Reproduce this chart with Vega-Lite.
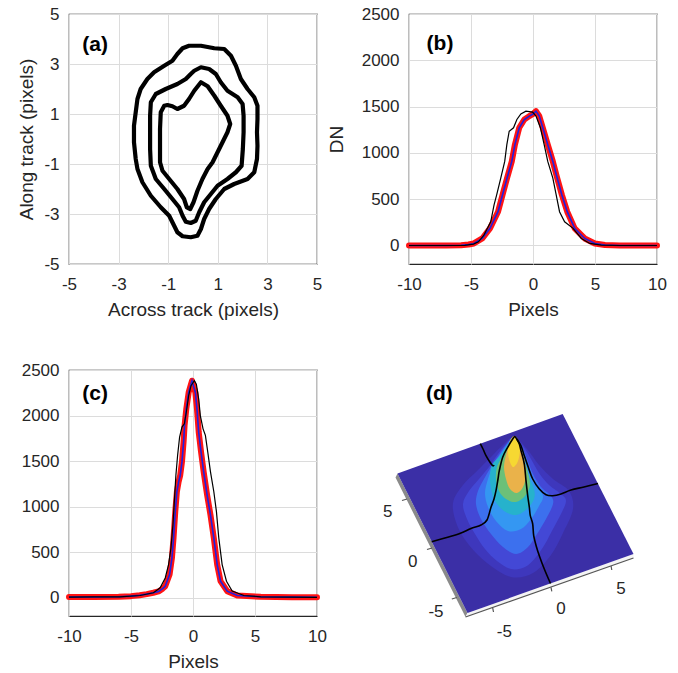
{
"$schema":"https://vega.github.io/schema/vega-lite/v6.json",
"background":"white",
"padding":{"left":17,"top":4,"right":5,"bottom":5},
"config":{
 "font":"Liberation Sans",
 "view":{"stroke":"#262626","strokeWidth":1.2},
 "axis":{"labelFont":"Liberation Sans","labelFontSize":17,"labelColor":"#262626","titleFont":"Liberation Sans","titleFontSize":19,"titleFontWeight":"normal","titleColor":"#262626","grid":true,"gridColor":"#dcdcdc","gridWidth":1,"domain":false,"ticks":false,"labelPadding":10,"labelFlush":false,"labelOverlap":false,"labelExpr":"'' + datum.value"},
 "axisX":{"labelPadding":12,"titlePadding":8},
 "axisY":{"titlePadding":7},
 "text":{"font":"Liberation Sans","color":"#000000"}
},
"datasets":{
 "labels":[{"panel":"a","label":"(a)","x":-3.95,"y":3.76},{"panel":"b","label":"(b)","x":-7.5,"y":2175},{"panel":"c","label":"(c)","x":-7.9,"y":2232},{"panel":"d","label":"(d)","u":-9.37,"v":9.9}],
 "contours":[
  {"ring":1,"i":0,"x":-0.16,"y":3.73},{"ring":1,"i":1,"x":0.32,"y":3.73},{"ring":1,"i":2,"x":0.86,"y":3.63},{"ring":1,"i":3,"x":1.26,"y":3.6},{"ring":1,"i":4,"x":1.53,"y":3.33},{"ring":1,"i":5,"x":1.73,"y":2.93},{"ring":1,"i":6,"x":1.93,"y":2.4},{"ring":1,"i":7,"x":2.2,"y":2.0},{"ring":1,"i":8,"x":2.47,"y":1.67},{"ring":1,"i":9,"x":2.6,"y":1.33},{"ring":1,"i":10,"x":2.6,"y":0.8},{"ring":1,"i":11,"x":2.58,"y":0.27},{"ring":1,"i":12,"x":2.6,"y":-0.27},{"ring":1,"i":13,"x":2.58,"y":-0.8},{"ring":1,"i":14,"x":2.47,"y":-1.33},{"ring":1,"i":15,"x":2.2,"y":-1.6},{"ring":1,"i":16,"x":1.66,"y":-1.8},{"ring":1,"i":17,"x":1.26,"y":-2.0},{"ring":1,"i":18,"x":0.92,"y":-2.4},{"ring":1,"i":19,"x":0.65,"y":-2.8},{"ring":1,"i":20,"x":0.45,"y":-3.2},{"ring":1,"i":21,"x":0.32,"y":-3.6},{"ring":1,"i":22,"x":0.18,"y":-3.87},{"ring":1,"i":23,"x":-0.09,"y":-3.93},{"ring":1,"i":24,"x":-0.42,"y":-3.89},{"ring":1,"i":25,"x":-0.63,"y":-3.73},{"ring":1,"i":26,"x":-0.76,"y":-3.47},{"ring":1,"i":27,"x":-0.96,"y":-3.07},{"ring":1,"i":28,"x":-1.3,"y":-2.73},{"ring":1,"i":29,"x":-1.7,"y":-2.27},{"ring":1,"i":30,"x":-2.04,"y":-1.73},{"ring":1,"i":31,"x":-2.24,"y":-1.2},{"ring":1,"i":32,"x":-2.31,"y":-0.8},{"ring":1,"i":33,"x":-2.38,"y":-0.13},{"ring":1,"i":34,"x":-2.38,"y":0.53},{"ring":1,"i":35,"x":-2.31,"y":1.07},{"ring":1,"i":36,"x":-2.24,"y":1.6},{"ring":1,"i":37,"x":-2.11,"y":2.0},{"ring":1,"i":38,"x":-1.84,"y":2.4},{"ring":1,"i":39,"x":-1.57,"y":2.67},{"ring":1,"i":40,"x":-1.16,"y":2.93},{"ring":1,"i":41,"x":-0.83,"y":3.13},{"ring":1,"i":42,"x":-0.63,"y":3.4},{"ring":1,"i":43,"x":-0.42,"y":3.63},
  {"ring":2,"i":0,"x":0.05,"y":2.73},{"ring":2,"i":1,"x":0.32,"y":2.87},{"ring":2,"i":2,"x":0.65,"y":2.8},{"ring":2,"i":3,"x":0.92,"y":2.6},{"ring":2,"i":4,"x":1.12,"y":2.27},{"ring":2,"i":5,"x":1.39,"y":1.93},{"ring":2,"i":6,"x":1.8,"y":1.67},{"ring":2,"i":7,"x":2.0,"y":1.4},{"ring":2,"i":8,"x":2.04,"y":0.93},{"ring":2,"i":9,"x":2.04,"y":0.27},{"ring":2,"i":10,"x":2.01,"y":-0.4},{"ring":2,"i":11,"x":1.96,"y":-1.07},{"ring":2,"i":12,"x":1.73,"y":-1.33},{"ring":2,"i":13,"x":1.39,"y":-1.6},{"ring":2,"i":14,"x":0.99,"y":-1.87},{"ring":2,"i":15,"x":0.72,"y":-2.2},{"ring":2,"i":16,"x":0.45,"y":-2.53},{"ring":2,"i":17,"x":0.25,"y":-2.93},{"ring":2,"i":18,"x":0.11,"y":-3.27},{"ring":2,"i":19,"x":-0.09,"y":-3.36},{"ring":2,"i":20,"x":-0.29,"y":-3.31},{"ring":2,"i":21,"x":-0.42,"y":-3.07},{"ring":2,"i":22,"x":-0.56,"y":-2.73},{"ring":2,"i":23,"x":-0.83,"y":-2.4},{"ring":2,"i":24,"x":-1.16,"y":-2.0},{"ring":2,"i":25,"x":-1.5,"y":-1.6},{"ring":2,"i":26,"x":-1.7,"y":-1.07},{"ring":2,"i":27,"x":-1.73,"y":-0.4},{"ring":2,"i":28,"x":-1.73,"y":0.27},{"ring":2,"i":29,"x":-1.73,"y":0.93},{"ring":2,"i":30,"x":-1.7,"y":1.47},{"ring":2,"i":31,"x":-1.5,"y":1.8},{"ring":2,"i":32,"x":-1.1,"y":2.0},{"ring":2,"i":33,"x":-0.63,"y":2.2},{"ring":2,"i":34,"x":-0.29,"y":2.4},{"ring":2,"i":35,"x":-0.09,"y":2.6},
  {"ring":3,"i":0,"x":0.32,"y":2.27},{"ring":3,"i":1,"x":0.59,"y":2.11},{"ring":3,"i":2,"x":0.86,"y":1.73},{"ring":3,"i":3,"x":1.12,"y":1.33},{"ring":3,"i":4,"x":1.39,"y":0.93},{"ring":3,"i":5,"x":1.5,"y":0.6},{"ring":3,"i":6,"x":1.39,"y":0.27},{"ring":3,"i":7,"x":1.19,"y":-0.13},{"ring":3,"i":8,"x":0.99,"y":-0.53},{"ring":3,"i":9,"x":0.79,"y":-0.93},{"ring":3,"i":10,"x":0.59,"y":-1.2},{"ring":3,"i":11,"x":0.38,"y":-1.6},{"ring":3,"i":12,"x":0.18,"y":-2.07},{"ring":3,"i":13,"x":0.02,"y":-2.53},{"ring":3,"i":14,"x":-0.11,"y":-2.8},{"ring":3,"i":15,"x":-0.25,"y":-2.73},{"ring":3,"i":16,"x":-0.36,"y":-2.4},{"ring":3,"i":17,"x":-0.63,"y":-2.0},{"ring":3,"i":18,"x":-0.96,"y":-1.6},{"ring":3,"i":19,"x":-1.23,"y":-1.27},{"ring":3,"i":20,"x":-1.33,"y":-0.93},{"ring":3,"i":21,"x":-1.33,"y":-0.27},{"ring":3,"i":22,"x":-1.33,"y":0.4},{"ring":3,"i":23,"x":-1.3,"y":1.07},{"ring":3,"i":24,"x":-1.16,"y":1.33},{"ring":3,"i":25,"x":-1.03,"y":1.36},{"ring":3,"i":26,"x":-0.83,"y":1.31},{"ring":3,"i":27,"x":-0.63,"y":1.2},{"ring":3,"i":28,"x":-0.36,"y":1.33},{"ring":3,"i":29,"x":-0.16,"y":1.6},{"ring":3,"i":30,"x":0.05,"y":1.93}
 ],
 "b_fit":[{"x":-10,"y":0},{"x":-7,"y":0},{"x":-5.8,"y":3},{"x":-5.2,"y":10},{"x":-4.77,"y":22},{"x":-4.09,"y":76},{"x":-3.47,"y":185},{"x":-2.82,"y":365},{"x":-2.46,"y":546},{"x":-2.09,"y":728},{"x":-1.71,"y":908},{"x":-1.46,"y":1089},{"x":-1.11,"y":1271},{"x":-0.7,"y":1361},{"x":-0.3,"y":1397},{"x":0.0,"y":1420},{"x":0.24,"y":1451},{"x":0.5,"y":1400},{"x":0.79,"y":1271},{"x":1.19,"y":1089},{"x":1.6,"y":908},{"x":1.95,"y":728},{"x":2.33,"y":546},{"x":2.76,"y":365},{"x":3.36,"y":185},{"x":4.17,"y":76},{"x":4.99,"y":22},{"x":5.8,"y":5},{"x":7,"y":0},{"x":10,"y":0}],
 "b_obs":[{"x":-10,"y":0},{"x":-7,"y":0},{"x":-5.5,"y":2},{"x":-4.8,"y":15},{"x":-4.4,"y":40},{"x":-3.96,"y":112},{"x":-3.41,"y":256},{"x":-3.14,"y":438},{"x":-2.93,"y":546},{"x":-2.6,"y":728},{"x":-2.28,"y":908},{"x":-2.11,"y":1089},{"x":-1.92,"y":1234},{"x":-1.57,"y":1271},{"x":-1.3,"y":1361},{"x":-0.98,"y":1420},{"x":-0.57,"y":1451},{"x":-0.03,"y":1440},{"x":0.24,"y":1397},{"x":0.6,"y":1271},{"x":0.9,"y":1089},{"x":1.19,"y":908},{"x":1.6,"y":728},{"x":1.87,"y":546},{"x":2.14,"y":365},{"x":2.55,"y":256},{"x":3.23,"y":185},{"x":3.9,"y":76},{"x":4.58,"y":22},{"x":5.5,"y":4},{"x":7,"y":0},{"x":10,"y":0}],
 "c_fit":[{"x":-10,"y":8},{"x":-8,"y":9},{"x":-6,"y":12},{"x":-5,"y":18},{"x":-4.3,"y":28},{"x":-3.73,"y":40},{"x":-3.2,"y":55},{"x":-2.78,"y":70},{"x":-2.45,"y":100},{"x":-2.24,"y":127},{"x":-1.89,"y":255},{"x":-1.7,"y":436},{"x":-1.57,"y":655},{"x":-1.43,"y":945},{"x":-1.3,"y":1164},{"x":-1.16,"y":1273},{"x":-1.03,"y":1345},{"x":-0.89,"y":1491},{"x":-0.76,"y":1709},{"x":-0.68,"y":1891},{"x":-0.54,"y":2073},{"x":-0.35,"y":2254},{"x":-0.08,"y":2382},{"x":0.19,"y":2254},{"x":0.32,"y":2073},{"x":0.46,"y":1818},{"x":0.65,"y":1600},{"x":0.86,"y":1382},{"x":1.14,"y":1127},{"x":1.41,"y":909},{"x":1.68,"y":655},{"x":1.95,"y":364},{"x":2.22,"y":182},{"x":2.76,"y":73},{"x":3.57,"y":25},{"x":5.46,"y":11},{"x":8,"y":7},{"x":10,"y":5}],
 "c_obs":[{"x":-10,"y":8},{"x":-8,"y":9},{"x":-5.9,"y":11},{"x":-4.27,"y":25},{"x":-3.19,"y":55},{"x":-2.65,"y":109},{"x":-2.24,"y":218},{"x":-1.97,"y":364},{"x":-1.78,"y":545},{"x":-1.62,"y":800},{"x":-1.49,"y":1091},{"x":-1.38,"y":1345},{"x":-1.24,"y":1564},{"x":-1.08,"y":1764},{"x":-0.89,"y":1873},{"x":-0.7,"y":1909},{"x":-0.54,"y":2036},{"x":-0.35,"y":2218},{"x":-0.16,"y":2327},{"x":0.11,"y":2382},{"x":0.27,"y":2345},{"x":0.46,"y":2182},{"x":0.59,"y":2000},{"x":0.81,"y":1854},{"x":1.0,"y":1782},{"x":1.19,"y":1600},{"x":1.41,"y":1382},{"x":1.68,"y":1164},{"x":1.89,"y":945},{"x":2.08,"y":655},{"x":2.35,"y":364},{"x":2.7,"y":182},{"x":3.16,"y":73},{"x":4.11,"y":25},{"x":5.46,"y":11},{"x":8,"y":7},{"x":10,"y":5}],
 "d_base":[
  {"part":"s1","i":0,"u":-13.55,"v":1.95},{"part":"s1","i":1,"u":-6.55,"v":-12.0},{"part":"s1","i":2,"u":-6.75,"v":-12.4},{"part":"s1","i":3,"u":-13.75,"v":1.55},
  {"part":"s2","i":0,"u":-6.55,"v":-12.0},{"part":"s2","i":1,"u":10.05,"v":-6.1},{"part":"s2","i":2,"u":10.05,"v":-6.5},{"part":"s2","i":3,"u":-6.75,"v":-12.4},
  {"part":"s3","i":0,"u":-13.55,"v":1.95},{"part":"s3","i":1,"u":2.97,"v":7.9},{"part":"s3","i":2,"u":10.05,"v":-6.1},{"part":"s3","i":3,"u":-6.55,"v":-12.0}
 ],
 "d_glow":[
  {"part":"g0","i":0,"u":-1.9,"v":5.6},{"part":"g0","i":1,"u":-3.0,"v":4.8},{"part":"g0","i":2,"u":-4.2,"v":3.6},{"part":"g0","i":3,"u":-5.6,"v":2.2},{"part":"g0","i":4,"u":-7.0,"v":0.8},{"part":"g0","i":5,"u":-8.0,"v":-1.0},{"part":"g0","i":6,"u":-7.6,"v":-3.2},{"part":"g0","i":7,"u":-6.4,"v":-5.2},{"part":"g0","i":8,"u":-4.6,"v":-7.0},{"part":"g0","i":9,"u":-2.2,"v":-8.4},{"part":"g0","i":10,"u":0.0,"v":-8.0},{"part":"g0","i":11,"u":1.8,"v":-6.2},{"part":"g0","i":12,"u":3.0,"v":-4.0},{"part":"g0","i":13,"u":4.0,"v":-1.6},{"part":"g0","i":14,"u":3.6,"v":0.2},{"part":"g0","i":15,"u":2.0,"v":1.4},{"part":"g0","i":16,"u":0.6,"v":2.8},{"part":"g0","i":17,"u":-0.6,"v":4.4},
  {"part":"g1","i":0,"u":-1.9,"v":5.6},{"part":"g1","i":1,"u":-2.7,"v":4.9},{"part":"g1","i":2,"u":-3.5,"v":3.9},{"part":"g1","i":3,"u":-4.4,"v":2.6},{"part":"g1","i":4,"u":-5.4,"v":1.4},{"part":"g1","i":5,"u":-6.4,"v":0.2},{"part":"g1","i":6,"u":-7.0,"v":-1.1},{"part":"g1","i":7,"u":-6.6,"v":-2.6},{"part":"g1","i":8,"u":-5.8,"v":-4.1},{"part":"g1","i":9,"u":-4.8,"v":-5.6},{"part":"g1","i":10,"u":-3.6,"v":-6.8},{"part":"g1","i":11,"u":-2.2,"v":-7.6},{"part":"g1","i":12,"u":-0.8,"v":-7.4},{"part":"g1","i":13,"u":0.3,"v":-6.4},{"part":"g1","i":14,"u":1.2,"v":-5.1},{"part":"g1","i":15,"u":2.0,"v":-3.6},{"part":"g1","i":16,"u":2.8,"v":-2.1},{"part":"g1","i":17,"u":3.3,"v":-0.8},{"part":"g1","i":18,"u":2.8,"v":-0.1},{"part":"g1","i":19,"u":1.6,"v":0.8},{"part":"g1","i":20,"u":0.6,"v":2.0},{"part":"g1","i":21,"u":-0.2,"v":3.4},{"part":"g1","i":22,"u":-1.0,"v":4.7},
  {"part":"g2","i":0,"u":-1.9,"v":5.6},{"part":"g2","i":1,"u":-2.7,"v":4.8},{"part":"g2","i":2,"u":-3.4,"v":3.8},{"part":"g2","i":3,"u":-4.2,"v":2.6},{"part":"g2","i":4,"u":-4.9,"v":1.4},{"part":"g2","i":5,"u":-5.5,"v":0.2},{"part":"g2","i":6,"u":-5.7,"v":-1.1},{"part":"g2","i":7,"u":-5.2,"v":-2.6},{"part":"g2","i":8,"u":-4.2,"v":-4.1},{"part":"g2","i":9,"u":-3.0,"v":-5.4},{"part":"g2","i":10,"u":-1.7,"v":-6.1},{"part":"g2","i":11,"u":-0.5,"v":-5.4},{"part":"g2","i":12,"u":0.4,"v":-4.1},{"part":"g2","i":13,"u":1.3,"v":-2.6},{"part":"g2","i":14,"u":2.0,"v":-1.1},{"part":"g2","i":15,"u":1.8,"v":-0.3},{"part":"g2","i":16,"u":0.8,"v":0.6},{"part":"g2","i":17,"u":0.0,"v":1.9},{"part":"g2","i":18,"u":-0.6,"v":3.4},{"part":"g2","i":19,"u":-1.2,"v":4.8},
  {"part":"g3","i":0,"u":-1.9,"v":5.6},{"part":"g3","i":1,"u":-2.6,"v":4.8},{"part":"g3","i":2,"u":-3.3,"v":3.8},{"part":"g3","i":3,"u":-4.0,"v":2.7},{"part":"g3","i":4,"u":-4.5,"v":1.4},{"part":"g3","i":5,"u":-4.8,"v":0.0},{"part":"g3","i":6,"u":-4.5,"v":-1.4},{"part":"g3","i":7,"u":-3.7,"v":-2.8},{"part":"g3","i":8,"u":-2.5,"v":-3.8},{"part":"g3","i":9,"u":-1.2,"v":-3.6},{"part":"g3","i":10,"u":-0.2,"v":-2.6},{"part":"g3","i":11,"u":0.6,"v":-1.3},{"part":"g3","i":12,"u":1.0,"v":-0.3},{"part":"g3","i":13,"u":0.3,"v":0.9},{"part":"g3","i":14,"u":-0.4,"v":2.4},{"part":"g3","i":15,"u":-0.9,"v":3.9},{"part":"g3","i":16,"u":-1.4,"v":5.0},
  {"part":"g4","i":0,"u":-1.9,"v":5.6},{"part":"g4","i":1,"u":-2.6,"v":4.7},{"part":"g4","i":2,"u":-3.3,"v":3.7},{"part":"g4","i":3,"u":-4.1,"v":2.8},{"part":"g4","i":4,"u":-4.3,"v":1.6},{"part":"g4","i":5,"u":-4.2,"v":0.4},{"part":"g4","i":6,"u":-3.8,"v":-0.8},{"part":"g4","i":7,"u":-2.9,"v":-1.8},{"part":"g4","i":8,"u":-1.7,"v":-2.2},{"part":"g4","i":9,"u":-0.6,"v":-1.6},{"part":"g4","i":10,"u":0.1,"v":-0.6},{"part":"g4","i":11,"u":0.1,"v":0.4},{"part":"g4","i":12,"u":-0.5,"v":1.8},{"part":"g4","i":13,"u":-1.0,"v":3.4},{"part":"g4","i":14,"u":-1.4,"v":4.8},
  {"part":"g5","i":0,"u":-1.9,"v":5.6},{"part":"g5","i":1,"u":-2.5,"v":4.7},{"part":"g5","i":2,"u":-3.1,"v":3.6},{"part":"g5","i":3,"u":-3.6,"v":2.6},{"part":"g5","i":4,"u":-3.7,"v":1.4},{"part":"g5","i":5,"u":-3.4,"v":0.2},{"part":"g5","i":6,"u":-2.7,"v":-0.6},{"part":"g5","i":7,"u":-1.7,"v":-0.9},{"part":"g5","i":8,"u":-0.8,"v":-0.3},{"part":"g5","i":9,"u":-0.3,"v":0.8},{"part":"g5","i":10,"u":-0.6,"v":2.4},{"part":"g5","i":11,"u":-1.1,"v":3.9},{"part":"g5","i":12,"u":-1.5,"v":5.0},
  {"part":"g6","i":0,"u":-1.9,"v":5.6},{"part":"g6","i":1,"u":-2.4,"v":4.8},{"part":"g6","i":2,"u":-2.7,"v":3.8},{"part":"g6","i":3,"u":-2.9,"v":2.6},{"part":"g6","i":4,"u":-2.7,"v":1.4},{"part":"g6","i":5,"u":-2.3,"v":0.4},{"part":"g6","i":6,"u":-1.6,"v":0.0},{"part":"g6","i":7,"u":-1.0,"v":0.6},{"part":"g6","i":8,"u":-0.7,"v":1.8},{"part":"g6","i":9,"u":-0.8,"v":3.0},{"part":"g6","i":10,"u":-1.1,"v":4.2},{"part":"g6","i":11,"u":-1.5,"v":5.1},
  {"part":"g7","i":0,"u":-1.9,"v":5.7},{"part":"g7","i":1,"u":-2.3,"v":5.2},{"part":"g7","i":2,"u":-2.5,"v":4.4},{"part":"g7","i":3,"u":-2.4,"v":3.4},{"part":"g7","i":4,"u":-2.0,"v":2.6},{"part":"g7","i":5,"u":-1.5,"v":3.2},{"part":"g7","i":6,"u":-1.3,"v":4.4},{"part":"g7","i":7,"u":-1.5,"v":5.3}
 ],
 "d_lines":[
  {"seg":"A","i":0,"u":-10.13,"v":-4.87},{"seg":"A","i":1,"u":-8.53,"v":-4.43},{"seg":"A","i":2,"u":-7.2,"v":-4.0},{"seg":"A","i":3,"u":-6.2,"v":-3.55},{"seg":"A","i":4,"u":-5.2,"v":-3.2},{"seg":"A","i":5,"u":-4.6,"v":-2.7},{"seg":"A","i":6,"u":-4.2,"v":-1.43},{"seg":"A","i":7,"u":-3.9,"v":-0.6},{"seg":"A","i":8,"u":-3.7,"v":0.23},{"seg":"A","i":9,"u":-3.5,"v":1.4},{"seg":"A","i":10,"u":-3.37,"v":2.23},{"seg":"A","i":11,"u":-3.03,"v":3.57},{"seg":"A","i":12,"u":-2.53,"v":4.57},{"seg":"A","i":13,"u":-2.03,"v":5.4},{"seg":"A","i":14,"u":-1.8,"v":5.63},{"seg":"A","i":15,"u":-1.53,"v":5.23},{"seg":"A","i":16,"u":-1.2,"v":4.73},{"seg":"A","i":17,"u":-0.87,"v":3.73},{"seg":"A","i":18,"u":-0.47,"v":2.57},{"seg":"A","i":19,"u":-0.03,"v":1.4},{"seg":"A","i":20,"u":0.63,"v":0.4},{"seg":"A","i":21,"u":1.3,"v":-0.17},{"seg":"A","i":22,"u":1.97,"v":-0.27},{"seg":"A","i":23,"u":2.8,"v":-0.1},{"seg":"A","i":24,"u":3.8,"v":0.3},{"seg":"A","i":25,"u":5.1,"v":0.6},{"seg":"A","i":26,"u":6.5,"v":0.95},
  {"seg":"B1","i":0,"u":-5.27,"v":4.93},{"seg":"B1","i":1,"u":-5.0,"v":4.4},{"seg":"B1","i":2,"u":-4.7,"v":3.73},{"seg":"B1","i":3,"u":-4.35,"v":3.15},{"seg":"B1","i":4,"u":-4.03,"v":2.73},{"seg":"B1","i":5,"u":-3.9,"v":2.8},
  {"seg":"B2","i":0,"u":-1.6,"v":5.4},{"seg":"B2","i":1,"u":-1.37,"v":4.9},{"seg":"B2","i":2,"u":-1.2,"v":4.23},{"seg":"B2","i":3,"u":-0.87,"v":2.9},{"seg":"B2","i":4,"u":-0.7,"v":1.23},{"seg":"B2","i":5,"u":-0.53,"v":-0.27},{"seg":"B2","i":6,"u":-0.37,"v":-1.4},{"seg":"B2","i":7,"u":-0.27,"v":-2.27},{"seg":"B2","i":8,"u":-0.03,"v":-3.1},{"seg":"B2","i":9,"u":0.07,"v":-4.27},{"seg":"B2","i":10,"u":0.35,"v":-5.4},{"seg":"B2","i":11,"u":0.63,"v":-6.27},{"seg":"B2","i":12,"u":1.13,"v":-7.6},{"seg":"B2","i":13,"u":1.75,"v":-9.05}
 ],
 "d_rules":[
  {"u":-12.6,"v":-0.6,"u2":-13.1,"v2":-0.75},{"u":-10.1,"v":-5.5,"u2":-10.6,"v2":-5.65},{"u":-7.62,"v":-10.45,"u2":-8.12,"v2":-10.6},
  {"u":-4.03,"v":-11.5,"u2":-3.95,"v2":-11.9},{"u":1.8,"v":-9.43,"u2":1.88,"v2":-9.83},{"u":7.8,"v":-7.3,"u2":7.88,"v2":-7.7},
  {"u":-6.75,"v":-12.4,"u2":10.05,"v2":-6.5}
 ],
 "d_ticklabels":[
  {"t":"5","u":-14.53,"v":-1.93},{"t":"0","u":-12.03,"v":-6.93},{"t":"-5","u":-9.7,"v":-11.93},
  {"t":"-5","u":-2.87,"v":-13.93},{"t":"0","u":2.8,"v":-11.6},{"t":"5","u":8.8,"v":-9.6}
 ]
},
"columns":2,
"bounds":"flush",
"spacing":{"row":106,"column":92},
"concat":[
 {
  "width":248,"height":250,
  "layer":[
   {"data":{"name":"contours"},
    "mark":{"type":"line","interpolate":"linear-closed","strokeWidth":4.2,"color":"#000000","strokeJoin":"round"},
    "encoding":{
     "x":{"field":"x","type":"quantitative","scale":{"domain":[-5,5],"nice":false,"zero":false},"axis":{"values":[-5,-3,-1,1,3,5],"title":"Across track (pixels)"}},
     "y":{"field":"y","type":"quantitative","scale":{"domain":[-5,5],"nice":false,"zero":false},"axis":{"values":[-5,-3,-1,1,3,5],"title":"Along track (pixels)"}},
     "order":{"field":"i","type":"quantitative"},
     "detail":{"field":"ring","type":"nominal"}}},
   {"data":{"name":"labels"},"transform":[{"filter":"datum.panel == 'a'"}],
    "mark":{"type":"text","fontWeight":"bold","fontSize":21,"align":"center","baseline":"middle"},
    "encoding":{"x":{"field":"x","type":"quantitative"},"y":{"field":"y","type":"quantitative"},"text":{"field":"label"}}}
  ]
 },
 {
  "width":248,"height":250,
  "layer":[
   {"data":{"name":"b_fit"},
    "mark":{"type":"line","strokeWidth":6,"color":"#ff1414","strokeJoin":"round","strokeCap":"round"},
    "encoding":{
     "x":{"field":"x","type":"quantitative","scale":{"domain":[-10,10],"nice":false,"zero":false},"axis":{"values":[-10,-5,0,5,10],"title":"Pixels"}},
     "y":{"field":"y","type":"quantitative","scale":{"domain":[-200,2500],"nice":false,"zero":false},"axis":{"values":[0,500,1000,1500,2000,2500],"title":"DN","titlePadding":15}}}},
   {"data":{"name":"b_fit"},
    "mark":{"type":"line","strokeWidth":1.6,"color":"#2020e0"},
    "encoding":{"x":{"field":"x","type":"quantitative"},"y":{"field":"y","type":"quantitative"}}},
   {"data":{"name":"b_obs"},
    "mark":{"type":"line","strokeWidth":1.2,"color":"#000000"},
    "encoding":{"x":{"field":"x","type":"quantitative"},"y":{"field":"y","type":"quantitative"}}},
   {"data":{"name":"labels"},"transform":[{"filter":"datum.panel == 'b'"}],
    "mark":{"type":"text","fontWeight":"bold","fontSize":21,"align":"center","baseline":"middle"},
    "encoding":{"x":{"field":"x","type":"quantitative"},"y":{"field":"y","type":"quantitative"},"text":{"field":"label"}}}
  ]
 },
 {
  "width":248,"height":246,
  "layer":[
   {"data":{"name":"c_fit"},
    "mark":{"type":"line","strokeWidth":6,"color":"#ff1414","strokeJoin":"round","strokeCap":"round"},
    "encoding":{
     "x":{"field":"x","type":"quantitative","scale":{"domain":[-10,10],"nice":false,"zero":false},"axis":{"values":[-10,-5,0,5,10],"title":"Pixels"}},
     "y":{"field":"y","type":"quantitative","scale":{"domain":[-200,2500],"nice":false,"zero":false},"axis":{"values":[0,500,1000,1500,2000,2500],"title":null}}}},
   {"data":{"name":"c_fit"},
    "mark":{"type":"line","strokeWidth":1.6,"color":"#2020e0"},
    "encoding":{"x":{"field":"x","type":"quantitative"},"y":{"field":"y","type":"quantitative"}}},
   {"data":{"name":"c_obs"},
    "mark":{"type":"line","strokeWidth":1.2,"color":"#000000"},
    "encoding":{"x":{"field":"x","type":"quantitative"},"y":{"field":"y","type":"quantitative"}}},
   {"data":{"name":"labels"},"transform":[{"filter":"datum.panel == 'c'"}],
    "mark":{"type":"text","fontWeight":"bold","fontSize":21,"align":"center","baseline":"middle"},
    "encoding":{"x":{"field":"x","type":"quantitative"},"y":{"field":"y","type":"quantitative"},"text":{"field":"label"}}}
  ]
 },
 {
  "width":248,"height":246,
  "view":{"stroke":null},
  "layer":[
   {"data":{"name":"d_base"},
    "mark":{"type":"line","interpolate":"linear-closed","strokeWidth":0},
    "encoding":{
     "x":{"field":"u","type":"quantitative","scale":{"domain":[-12.4,12.4],"nice":false,"zero":false},"axis":null},
     "y":{"field":"v","type":"quantitative","scale":{"domain":[-12.3,12.3],"nice":false,"zero":false},"axis":null},
     "order":{"field":"i","type":"quantitative"},
     "detail":{"field":"part","type":"nominal"},
     "fill":{"field":"part","type":"nominal","scale":{"domain":["s1","s2","s3","g0","g1","g2","g3","g4","g5","g6","g7"],"range":["#8a8a8a","#f4f4f4","#3b2fa6","#3e37bc","#4348d6","#3c70ee","#3497f2","#26b2cc","#6cc078","#eab24a","#f6d832"]},"legend":null}}},
   {"data":{"name":"d_glow"},
    "mark":{"type":"line","interpolate":"cardinal-closed","strokeWidth":0},
    "encoding":{
     "x":{"field":"u","type":"quantitative"},
     "y":{"field":"v","type":"quantitative"},
     "order":{"field":"i","type":"quantitative"},
     "detail":{"field":"part","type":"nominal"},
     "fill":{"field":"part","type":"nominal","legend":null}}},
   {"data":{"name":"d_lines"},
    "mark":{"type":"line","strokeWidth":1.6,"color":"#000000","interpolate":"cardinal"},
    "encoding":{
     "x":{"field":"u","type":"quantitative"},
     "y":{"field":"v","type":"quantitative"},
     "order":{"field":"i","type":"quantitative"},
     "detail":{"field":"seg","type":"nominal"}}},
   {"data":{"name":"d_rules"},
    "mark":{"type":"rule","color":"#555555","strokeWidth":1.2},
    "encoding":{
     "x":{"field":"u","type":"quantitative"},"y":{"field":"v","type":"quantitative"},
     "x2":{"field":"u2"},"y2":{"field":"v2"}}},
   {"data":{"name":"d_ticklabels"},
    "mark":{"type":"text","fontSize":17,"color":"#262626","align":"center","baseline":"middle"},
    "encoding":{"x":{"field":"u","type":"quantitative"},"y":{"field":"v","type":"quantitative"},"text":{"field":"t"}}},
   {"data":{"name":"labels"},"transform":[{"filter":"datum.panel == 'd'"}],
    "mark":{"type":"text","fontWeight":"bold","fontSize":21,"align":"center","baseline":"middle"},
    "encoding":{"x":{"field":"u","type":"quantitative"},"y":{"field":"v","type":"quantitative"},"text":{"field":"label"}}}
  ]
 }
]
}
